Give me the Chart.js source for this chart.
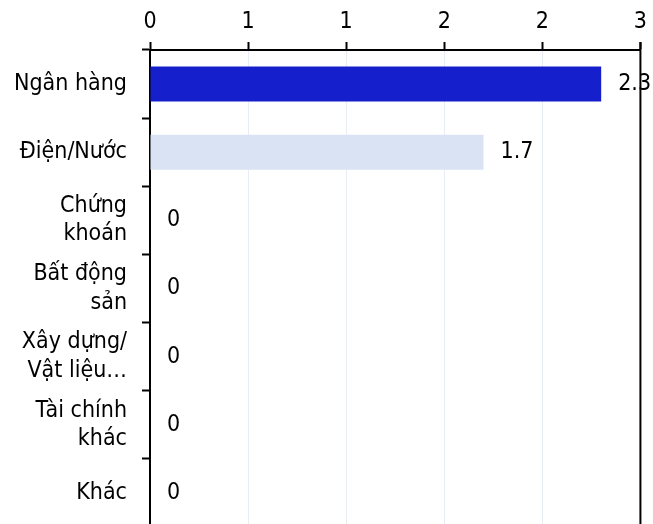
<!DOCTYPE html>
<html>
  <head>
    <title>Ngành - bar</title>
    <script src="https://cdn.jsdelivr.net/npm/chart.js@4.4.1/dist/chart.umd.min.js"></script>
    <style>
      html, body { margin: 0; padding: 0; overflow: hidden; background: #fff; }
    </style>
  </head>
  <body>
    <canvas id="myChart" width="653" height="530"></canvas>
  </body>
  <script>
    const categories = [
      'Ngân hàng',
      'Điện/Nước',
      ['Chứng', 'khoán'],
      ['Bất động', 'sản'],
      ['Xây dựng/', 'Vật liệu…'],
      ['Tài chính', 'khác'],
      'Khác',
    ]
    const values = [2.3, 1.7, 0, 0, 0, 0, 0]
    const valueLabels = ['2.3', '1.7', '0', '0', '0', '0', '0']
    const barColors = ['#1520cc', '#dae3f3', '#dae3f3', '#dae3f3', '#dae3f3', '#dae3f3', '#dae3f3']
    const xTickLabels = ['0', '1', '1', '2', '2', '3']

    const FONT = "'DejaVu Sans Condensed', 'DejaVu Sans', sans-serif"

    const valueLabelsPlugin = {
      id: 'valueLabels',
      afterDatasetsDraw(chart) {
        const { ctx } = chart
        const meta = chart.getDatasetMeta(0)
        ctx.save()
        ctx.font = '23px ' + FONT
        ctx.fillStyle = '#000'
        ctx.textAlign = 'left'
        ctx.textBaseline = 'middle'
        meta.data.forEach((bar, i) => {
          ctx.fillText(valueLabels[i], bar.x + 17, bar.y)
        })
        ctx.restore()
      },
    }

    const rightLine = {
      id: 'rightLine',
      afterDraw(chart) {
        const { ctx, chartArea: { top, right, bottom } } = chart
        ctx.save()
        ctx.strokeStyle = '#000'
        ctx.lineWidth = 2
        ctx.beginPath()
        ctx.moveTo(right, top - 8)
        ctx.lineTo(right, bottom)
        ctx.stroke()
        ctx.restore()
      },
    }

    const ctx = document.getElementById('myChart').getContext('2d')
    const myChart = new Chart(ctx, {
      type: 'bar',
      data: {
        labels: categories,
        datasets: [
          {
            data: values,
            backgroundColor: barColors,
            borderWidth: 0,
            categoryPercentage: 1,
            barPercentage: 0.513,
          },
        ],
      },
      options: {
        indexAxis: 'y',
        responsive: false,
        animation: false,
        layout: { padding: { top: 0, right: 11, bottom: 3, left: 0 } },
        plugins: {
          legend: { display: false },
          tooltip: { enabled: false },
        },
        scales: {
          x: {
            position: 'top',
            min: 0,
            max: 2.5,
            afterFit(s) { s.height = 50 },
            afterBuildTicks(s) {
              s.ticks = [0, 0.5, 1, 1.5, 2, 2.5].map(v => ({ value: v }))
            },
            ticks: {
              color: '#000',
              font: { family: FONT, size: 23 },
              padding: 6,
              callback: (v, i) => xTickLabels[i],
            },
            grid: {
              color: '#e8edf5',
              lineWidth: 1,
              tickColor: '#000',
              tickWidth: 2,
              tickLength: 8,
            },
            border: { color: '#000', width: 2 },
          },
          y: {
            afterFit(s) {
              s.width = 150
              s.paddingTop = 0
              s.paddingBottom = 0
            },
            ticks: {
              color: '#000',
              font: { family: FONT, size: 23, lineHeight: 1.23 },
              padding: 15,
            },
            grid: {
              offset: true,
              drawOnChartArea: false,
              tickColor: '#000',
              tickWidth: 2,
              tickLength: 8,
            },
            border: { color: '#000', width: 2 },
          },
        },
      },
      plugins: [valueLabelsPlugin, rightLine],
    })
  </script>
</html>
